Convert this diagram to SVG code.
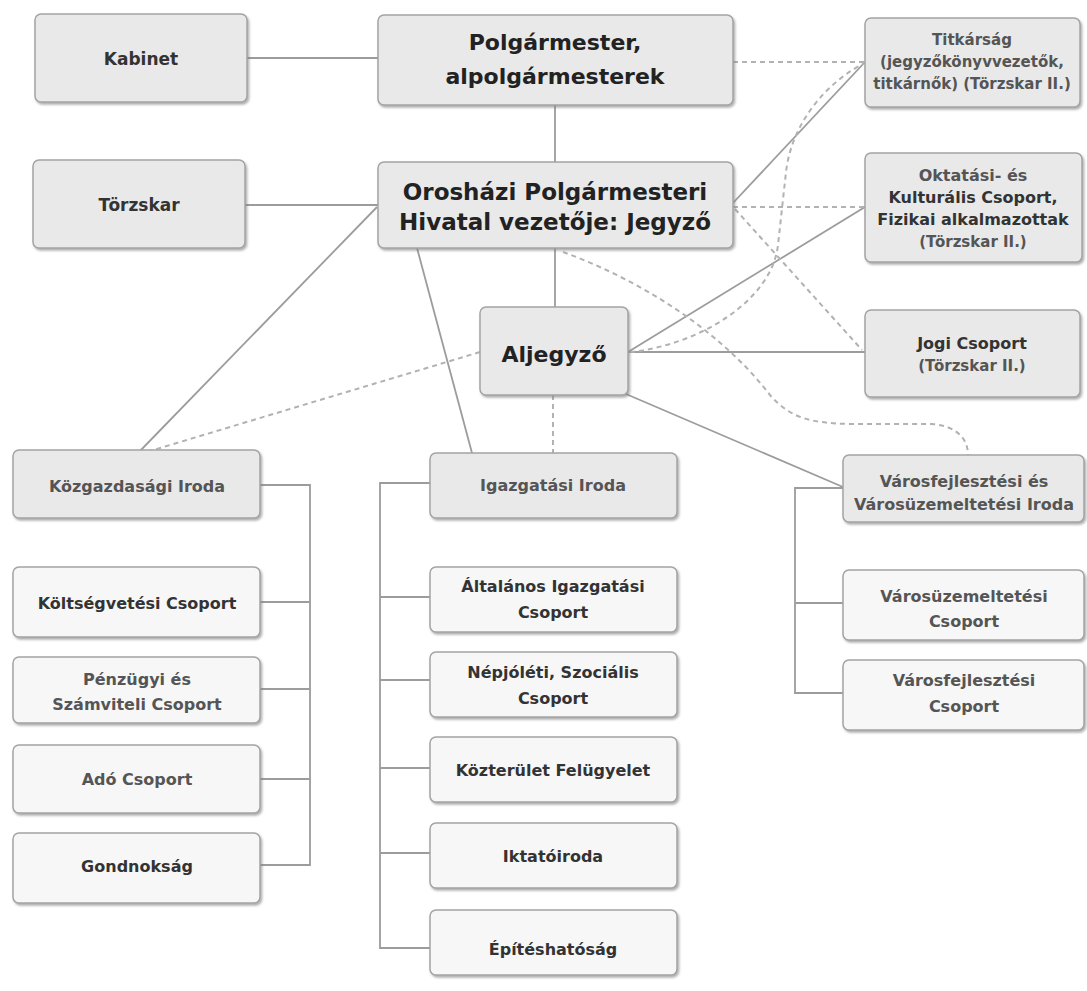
<svg xmlns="http://www.w3.org/2000/svg" width="1087" height="991" viewBox="0 0 1087 991">
<defs>
<filter id="sh" x="-5%" y="-5%" width="115%" height="125%">
<feDropShadow dx="1.5" dy="2" stdDeviation="1.2" flood-color="#7a7a7a" flood-opacity="0.6"/>
</filter>
<style>
.box{fill:#e9e9e9;stroke:#a4a4a4;stroke-width:1.5;filter:url(#sh)}
.sub{fill:#f7f7f7;stroke:#a4a4a4;stroke-width:1.5;filter:url(#sh)}
.t{font-family:"DejaVu Sans","Liberation Sans",sans-serif;font-weight:bold;font-size:16px;fill:#333;text-anchor:middle}
.g{fill:#555}
.big{font-size:22px;fill:#222}
.ln{stroke:#9c9c9c;stroke-width:1.8;fill:none}
.dl{stroke:#b2b2b2;stroke-width:2;stroke-dasharray:5 4;fill:none}
</style>
</defs>
<rect width="1087" height="991" fill="#ffffff"/>

<g id="connectors">
<line class="ln" x1="247" y1="58" x2="378" y2="58"/>
<line class="ln" x1="245" y1="205" x2="378" y2="205"/>
<line class="ln" x1="555" y1="105" x2="555" y2="162"/>
<line class="ln" x1="555" y1="248" x2="555" y2="307"/>
<line class="ln" x1="377" y1="207" x2="140" y2="451"/>
<line class="ln" x1="417" y1="248" x2="472" y2="453"/>
<line class="ln" x1="733" y1="203" x2="865" y2="62"/>
<line class="ln" x1="628" y1="352" x2="865" y2="207"/>
<line class="ln" x1="628" y1="352" x2="865" y2="352"/>
<line class="ln" x1="626" y1="394" x2="843" y2="487"/>
<path class="ln" d="M260,485 H310 V865 H260 M310,602 H260 M310,689 H260 M310,779 H260"/>
<path class="ln" d="M430,483 H380 V948 H430 M380,597 H430 M380,680 H430 M380,768 H430 M380,853 H430"/>
<path class="ln" d="M843,488 H795 V693 H843 M795,603 H843"/>
<line class="dl" x1="733" y1="62" x2="865" y2="62"/>
<line class="dl" x1="733" y1="207" x2="865" y2="207"/>
<line class="dl" x1="735" y1="209" x2="862" y2="350"/>
<path class="dl" d="M630,352 C700,345 772,300 778,245 L786,172 C792,120 830,80 865,63"/>
<line class="dl" x1="480" y1="352" x2="150" y2="451"/>
<line class="dl" x1="553" y1="395" x2="553" y2="453"/>
<path class="dl" d="M563,252 C640,280 720,330 770,395 C790,418 810,423 850,424 L932,424 C958,426 968,440 968,455"/>
</g>

<g id="kabinet"><rect class="box" x="35" y="14" width="212" height="88" rx="6"/><text class="t" x="141" y="65" style="font-size:17px">Kabinet</text></g>
<g id="torzskar"><rect class="box" x="33" y="160" width="212" height="88" rx="6"/><text class="t" x="139" y="211" style="font-size:17px">Törzskar</text></g>
<g id="polgarmester"><rect class="box" x="378" y="15" width="355" height="90" rx="6"/><text class="t big" x="555" y="50">Polgármester,</text><text class="t big" x="555" y="84">alpolgármesterek</text></g>
<g id="jegyzo"><rect class="box" x="378" y="162" width="355" height="86" rx="6"/><text class="t big" x="555" y="200" style="font-size:23px">Orosházi Polgármesteri</text><text class="t big" x="555" y="230" style="font-size:23px">Hivatal vezetője: Jegyző</text></g>
<g id="aljegyzo"><rect class="box" x="480" y="307" width="148" height="88" rx="6"/><text class="t big" x="554" y="362">Aljegyző</text></g>

<g id="titkarsag"><rect class="box" x="865" y="18" width="215" height="89" rx="6"/><text class="t g" x="972" y="45" style="font-size:15px">Titkárság</text><text class="t g" x="972" y="67" style="font-size:15px">(jegyzőkönyvvezetők,</text><text class="t g" x="972" y="89" style="font-size:15px">titkárnők) (Törzskar II.)</text></g>
<g id="oktatasi"><rect class="box" x="865" y="153" width="217" height="109" rx="6"/><text class="t g" x="973" y="181">Oktatási- és</text><text class="t" x="973" y="203">Kulturális Csoport,</text><text class="t" x="973" y="225">Fizikai alkalmazottak</text><text class="t g" x="973" y="247" style="font-size:15px">(Törzskar II.)</text></g>
<g id="jogi"><rect class="box" x="865" y="310" width="215" height="87" rx="6"/><text class="t" x="972" y="349">Jogi Csoport</text><text class="t g" x="972" y="371" style="font-size:15px">(Törzskar II.)</text></g>

<g id="kozgazdasagi"><rect class="box" x="13" y="450" width="247" height="68" rx="6"/><text class="t g" x="137" y="492">Közgazdasági Iroda</text></g>
<g id="koltsegvetesi"><rect class="sub" x="13" y="567" width="247" height="70" rx="6"/><text class="t" x="137" y="609">Költségvetési Csoport</text></g>
<g id="penzugyi"><rect class="sub" x="13" y="657" width="247" height="66" rx="6"/><text class="t g" x="137" y="685">Pénzügyi és</text><text class="t g" x="137" y="710">Számviteli Csoport</text></g>
<g id="ado"><rect class="sub" x="13" y="745" width="247" height="68" rx="6"/><text class="t g" x="137" y="785">Adó Csoport</text></g>
<g id="gondnoksag"><rect class="sub" x="13" y="833" width="247" height="70" rx="6"/><text class="t" x="137" y="872">Gondnokság</text></g>

<g id="igazgatasi"><rect class="box" x="430" y="453" width="247" height="65" rx="6"/><text class="t g" x="553" y="491">Igazgatási Iroda</text></g>
<g id="altalanos"><rect class="sub" x="430" y="567" width="247" height="65" rx="6"/><text class="t" x="553" y="592">Általános Igazgatási</text><text class="t" x="553" y="618">Csoport</text></g>
<g id="nepjoleti"><rect class="sub" x="430" y="652" width="247" height="65" rx="6"/><text class="t" x="553" y="678">Népjóléti, Szociális</text><text class="t" x="553" y="704">Csoport</text></g>
<g id="kozterulet"><rect class="sub" x="430" y="737" width="247" height="65" rx="6"/><text class="t" x="553" y="776">Közterület Felügyelet</text></g>
<g id="iktato"><rect class="sub" x="430" y="823" width="247" height="65" rx="6"/><text class="t" x="553" y="862">Iktatóiroda</text></g>
<g id="epites"><rect class="sub" x="430" y="910" width="247" height="65" rx="6"/><text class="t" x="553" y="955">Építéshatóság</text></g>

<g id="varosfejl-iroda"><rect class="box" x="843" y="455" width="241" height="67" rx="6"/><text class="t g" x="964" y="487">Városfejlesztési és</text><text class="t g" x="964" y="510">Városüzemeltetési Iroda</text></g>
<g id="varosuzem"><rect class="sub" x="843" y="570" width="241" height="70" rx="6"/><text class="t g" x="964" y="602">Városüzemeltetési</text><text class="t g" x="964" y="627">Csoport</text></g>
<g id="varosfejl"><rect class="sub" x="843" y="660" width="241" height="70" rx="6"/><text class="t g" x="964" y="686">Városfejlesztési</text><text class="t g" x="964" y="712">Csoport</text></g>
</svg>
